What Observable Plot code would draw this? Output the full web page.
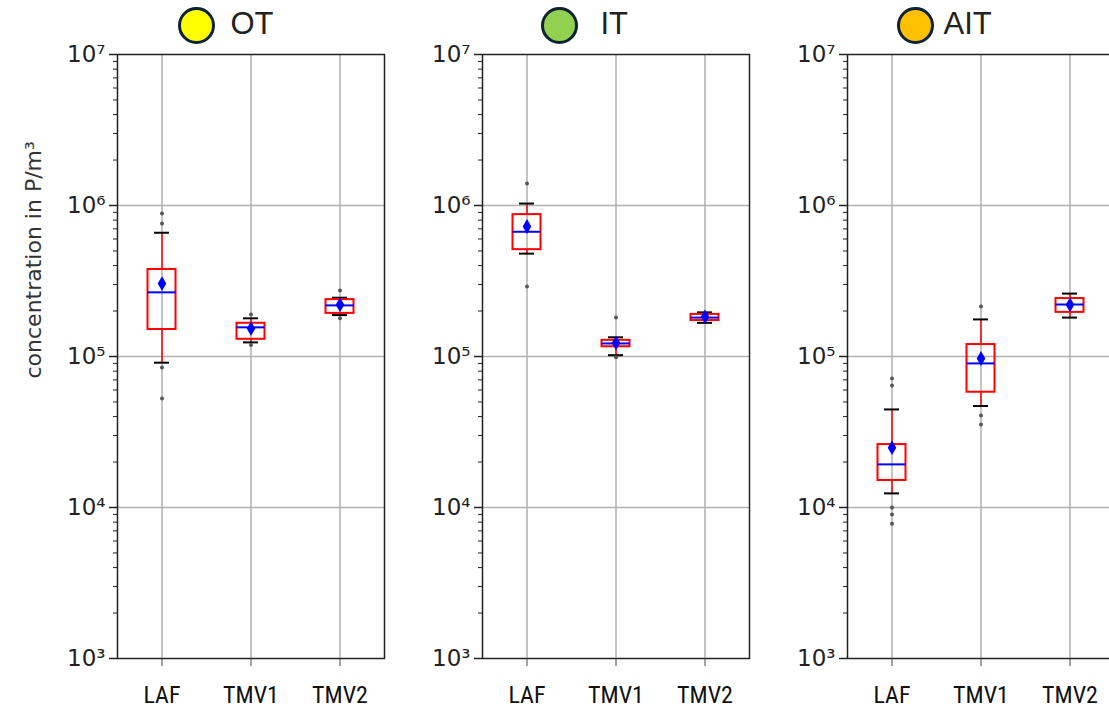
<!DOCTYPE html>
<html><head><meta charset="utf-8">
<script src="https://cdn.jsdelivr.net/npm/d3@7"></script>
<script src="https://cdn.jsdelivr.net/npm/@observablehq/plot@0.6"></script>
<style>
html,body{margin:0;padding:0;background:#fff;overflow:hidden;}
#wrap{position:relative;width:1109px;height:709px;overflow:hidden;}
#wrap > svg{position:absolute;top:0;max-width:none;}
</style></head>
<body><div id="wrap"></div>
<script>
// ---- data ----
const panels = ["OT", "IT", "AIT"];
const panelColors = ["#ffff00", "#92d050", "#ffc000"];
const categories = ["LAF", "TMV1", "TMV2"];
const whiskerLow  = [[9.1e4, 1.24e5, 1.88e5], [4.8e5, 1.02e5, 1.67e5], [1.24e4, 4.7e4, 1.81e5]];
const q1          = [[1.51e5, 1.30e5, 1.93e5], [5.1e5, 1.16e5, 1.73e5], [1.51e4, 5.8e4, 1.96e5]];
const median      = [[2.66e5, 1.56e5, 2.18e5], [6.7e5, 1.22e5, 1.81e5], [1.93e4, 9.0e4, 2.21e5]];
const q3          = [[3.77e5, 1.66e5, 2.38e5], [8.7e5, 1.28e5, 1.90e5], [2.61e4, 1.2e5, 2.42e5]];
const whiskerHigh = [[6.6e5, 1.79e5, 2.45e5], [1.03e6, 1.34e5, 1.96e5], [4.46e4, 1.76e5, 2.61e5]];
const mean        = [[3.04e5, 1.53e5, 2.2e5], [7.26e5, 1.23e5, 1.83e5], [2.49e4, 9.7e4, 2.2e5]];
const outliers = [
  [[8.85e5, 7.6e5, 8.45e4, 5.27e4], [1.9e5, 1.19e5], [2.74e5, 1.79e5]],
  [[1.4e6, 2.91e5], [1.81e5, 9.9e4], []],
  [[7.15e4, 6.43e4, 1.0e4, 9.0e3, 7.8e3], [2.14e5, 4.06e4, 3.55e4], []]
];
const yTicks = [1e3, 1e4, 1e5, 1e6, 1e7];
const yTickLabels = ["10³", "10⁴", "10⁵", "10⁶", "10⁷"];
const yMinorTicks = [1e3, 1e4, 1e5, 1e6].flatMap(b => [2,3,4,5,6,7,8,9].map(k => k * b));
const yLabel = "concentration in P/m³";

// ---- layout ----
const frameLefts = [117, 482, 847];
const FW = 267, ML = 100;
const titleDotDx = [79, 77, 68];
const titleTextDx = [113, 118, 96];
const bw = FW / 3;
const boxInset = (bw - 28) / 2;
const capInset = (bw - 15) / 2;
const wrap = document.getElementById("wrap");

panels.forEach((name, p) => {
  const rows = categories.map((c, i) => ({
    cat: c, lo: whiskerLow[p][i], q1: q1[p][i], med: median[p][i],
    q3: q3[p][i], hi: whiskerHigh[p][i], mean: mean[p][i]
  }));
  const outRows = categories.flatMap((c, i) => outliers[p][i].map(v => ({cat: c, v})));
  const frameStyle = {stroke: "#222", strokeWidth: 1.5};
  const frameMarks = p < 2
    ? [Plot.frame(frameStyle)]
    : [Plot.ruleY([1e3, 1e7], frameStyle),
       Plot.ruleX([categories[0]], {x: d => d, dx: -bw / 2, ...frameStyle})];
  const marks = [
    Plot.ruleY([1e4, 1e5, 1e6], {stroke: "#b0b0b0", strokeWidth: 1.5}),
    Plot.ruleX(categories, {x: d => d, stroke: "#b0b0b0", strokeWidth: 1.5}),
    Plot.ruleX(rows, {x: "cat", y1: "lo", y2: "q1", stroke: "#ff0000", strokeWidth: 1.5}),
    Plot.ruleX(rows, {x: "cat", y1: "q3", y2: "hi", stroke: "#ff0000", strokeWidth: 1.5}),
    Plot.tickY(rows, {x: "cat", y: "lo", stroke: "#000", strokeWidth: 2, insetLeft: capInset, insetRight: capInset}),
    Plot.tickY(rows, {x: "cat", y: "hi", stroke: "#000", strokeWidth: 2, insetLeft: capInset, insetRight: capInset}),
    Plot.barY(rows, {x: "cat", y1: "q1", y2: "q3", fill: "none", stroke: "#ff0000", strokeWidth: 2, insetLeft: boxInset, insetRight: boxInset}),
    Plot.tickY(rows, {x: "cat", y: "med", stroke: "#0000ff", strokeWidth: 2, insetLeft: boxInset, insetRight: boxInset}),
    Plot.dot(outRows, {x: "cat", y: "v", r: 2, fill: "#555", stroke: "none"}),
    Plot.dot(rows, {x: "cat", y: "mean", symbol: "diamond", r: 4.5, fill: "#0000ff", stroke: "none"}),
    ...frameMarks,
    Plot.axisX({tickSize: 8, tickPadding: 19, fontSize: 24, stroke: "#444",
      fontFamily: "'Liberation Sans Narrow', 'Roboto Condensed', 'Liberation Sans', sans-serif", fill: "#111", label: null}),
    Plot.axisY({ticks: yMinorTicks, tickSize: 4, tickFormat: () => "", stroke: "#222", label: null}),
    Plot.axisY({ticks: yTicks, tickSize: 8, tickPadding: 4, strokeWidth: 1.5, stroke: "#222",
      tickFormat: d => yTickLabels[yTicks.indexOf(d)], fontSize: 23, fontFamily: "'DejaVu Sans', sans-serif", fill: "#222", label: null}),
    Plot.dot([name], {frameAnchor: "top-left", dx: titleDotDx[p], dy: -29, r: 17, fill: panelColors[p], stroke: "#0d2233", strokeWidth: 3}),
    Plot.text([name], {frameAnchor: "top-left", dx: titleTextDx[p], dy: -30, text: d => d, textAnchor: "start", lineAnchor: "middle",
      fontSize: 31, fontFamily: "'Liberation Sans', Arial, sans-serif", fill: "#222"})
  ];
  if (p === 0) {
    marks.push(Plot.text([yLabel], {frameAnchor: "left", dx: -84, dy: 22, rotate: -90, text: d => d,
      fontSize: 22, fontFamily: "'DejaVu Sans', sans-serif", fill: "#333"}));
  }
  const svg = Plot.plot({
    width: ML + FW, height: 709,
    marginLeft: ML, marginRight: 0, marginTop: 54, marginBottom: 51,
    style: {background: "transparent", overflow: "visible"},
    x: {type: "band", domain: categories, padding: 0, axis: null},
    y: {type: "log", domain: [1e3, 1e7], axis: null, label: null},
    marks
  });
  svg.style.position = "absolute";
  svg.style.left = (frameLefts[p] - ML) + "px";
  svg.style.top = "0px";
  wrap.appendChild(svg);
});
</script>
</body></html>
